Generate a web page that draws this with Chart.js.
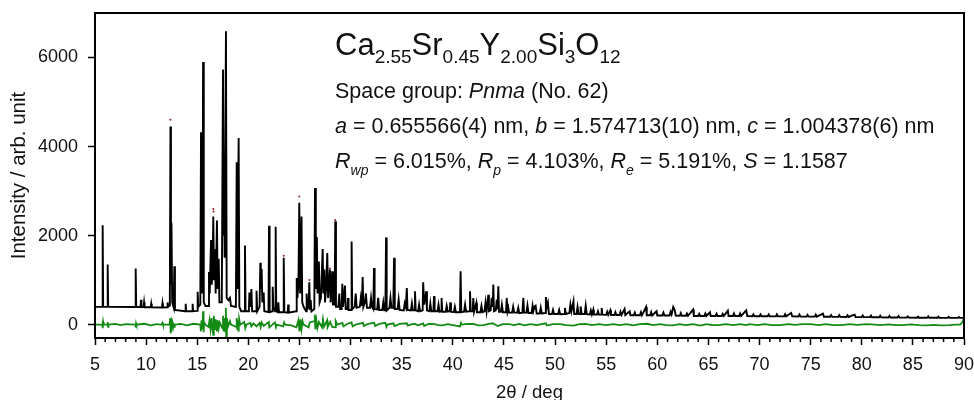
<!DOCTYPE html>
<html>
<head>
<meta charset="utf-8">
<script src="https://cdn.jsdelivr.net/npm/chart.js@4.4.0/dist/chart.umd.min.js"></script>
<style>
  body { margin: 0; background: #fff; }
  #wrap { width: 974px; height: 400px; }
</style>
</head>
<body>
<div id="wrap"><canvas id="graficoXRD" width="974" height="400"></canvas></div>
<script>
// perfil calculado (2theta, intensidad)
const calcProfile = [
  [5.0,400],[5.70,400],[5.75,2230],[5.80,400],[6.19,400],[6.24,1350],[6.29,400],
  [8.93,395],[8.98,1260],[9.03,395],[9.45,395],[9.5,560],[9.55,395],[9.75,395],[9.8,500],[9.85,390],
  [10.45,390],[10.5,470],[10.55,390],[11.55,385],[11.6,480],[11.65,385],[12.05,390],[12.1,500],[12.15,400],
  [12.32,430],[12.38,4450],[12.43,900],[12.48,2290],[12.55,500],[12.7,380],[12.76,1310],[12.82,330],
  [13.82,300],[13.87,470],[13.92,300],[14.5,300],[14.55,470],[14.6,300],[14.99,310],[15.04,740],[15.1,400],
  [15.3,450],[15.37,4320],[15.45,700],[15.52,1200],[15.57,5900],[15.64,500],[15.8,420],
  [16.1,420],[16.15,1180],[16.22,700],[16.35,1900],[16.42,900],[16.5,1200],[16.57,2430],[16.64,1000],
  [16.74,1700],[16.8,700],[16.93,2340],[16.99,800],[17.1,1480],[17.17,500],
  [17.4,500],[17.52,5730],[17.58,2000],[17.62,3150],[17.68,1500],[17.81,6590],[17.88,600],[18.05,550],[18.2,600],[18.3,420],
  [18.78,400],[18.86,3650],[18.93,800],[19.05,4190],[19.12,400],[19.3,300],[19.6,300],[19.67,1780],[19.73,300],
  [20.05,300],[20.1,720],[20.18,400],[20.3,800],[20.37,300],[20.75,300],[20.8,760],[20.87,300],
  [21.1,400],[21.17,1390],[21.22,800],[21.3,1250],[21.37,500],[21.5,720],[21.56,300],
  [21.97,280],[22.02,2220],[22.08,280],[22.33,300],[22.38,850],[22.45,400],[22.62,300],[22.67,2200],[22.73,300],
  [22.88,280],[22.93,500],[23.0,280],[23.4,280],[23.46,1500],[23.52,280],[23.85,270],[23.9,450],[23.95,270],
  [24.68,300],[24.73,1050],[24.8,600],[24.9,900],[24.98,2740],[25.07,700],[25.2,2430],[25.27,500],[25.4,400],
  [25.65,300],[25.7,700],[25.78,350],[25.9,400],[25.96,950],[26.03,350],[26.1,550],[26.17,300],
  [26.45,350],[26.52,3070],[26.6,800],[26.7,1970],[26.77,700],[26.9,1420],[26.97,500],[27.1,600],[27.27,1700],
  [27.33,700],[27.43,1240],[27.5,500],[27.6,800],[27.72,1610],[27.8,600],[27.98,1240],[28.05,500],[28.2,1200],[28.27,450],
  [28.44,450],[28.5,2320],[28.57,400],[28.8,400],[28.9,700],[28.97,350],[29.13,350],[29.19,920],[29.26,400],
  [29.45,880],[29.52,350],[29.7,350],[29.75,600],[29.8,330],
  [30.05,330],[30.1,1870],[30.16,350],[30.4,400],[30.5,700],[30.6,380],[30.9,400],[31.0,600],[31.1,420],
  [31.18,1070],[31.25,400],[31.4,500],[31.5,700],[31.6,380],
  [31.9,380],[32.0,600],[32.1,400],[32.22,350],[32.29,1270],[32.35,350],[32.6,340],[32.7,600],[32.8,330],
  [33.1,330],[33.2,500],[33.3,320],[33.4,320],[33.47,1960],[33.53,320],[33.8,380],[33.9,600],[34.0,380],
  [34.18,380],[34.25,1500],[34.32,350],[34.6,350],[34.7,560],[34.8,330],
  [35.2,320],[35.3,480],[35.4,400],[35.5,820],[35.57,330],[35.9,320],[36.0,480],[36.1,320],[36.25,320],
  [36.3,750],[36.37,320],[36.6,300],[36.7,450],[36.8,300],
  [37.05,320],[37.1,950],[37.2,450],[37.4,750],[37.47,320],[37.7,300],[37.8,480],[37.9,300],[38.1,300],
  [38.16,640],[38.22,300],[38.5,300],[38.6,450],[38.7,290],[38.85,300],[38.9,600],[38.97,290],
  [39.3,290],[39.4,420],[39.5,290],[39.7,300],[39.75,500],[39.82,290],[40.1,280],[40.2,400],[40.3,280],
  [40.7,280],[40.76,1200],[40.83,280],[41.1,290],[41.2,450],[41.3,290],[41.6,300],[41.68,750],[41.75,300],
  [41.95,300],[42.0,600],[42.08,290],[42.3,490],[42.36,280],
  [42.7,280],[42.8,420],[42.9,280],[43.1,300],[43.2,500],[43.3,300],[43.47,670],[43.53,300],[43.7,320],
  [43.8,600],[43.9,400],[43.96,900],[44.03,300],[44.2,320],[44.3,560],[44.38,350],[44.45,860],[44.52,290],
  [44.7,290],[44.8,450],[44.9,280],
  [45.2,280],[45.27,600],[45.35,300],[45.43,380],[45.5,270],[45.8,270],[45.9,400],[46.0,270],[46.3,270],
  [46.4,380],[46.5,260],[46.8,270],[46.9,600],[46.97,270],[47.2,270],[47.3,430],[47.4,260],[47.7,260],
  [47.8,420],[47.87,300],[48.0,410],[48.1,427],[48.2,250],
  [48.5,250],[48.6,380],[48.7,250],[49.05,260],[49.1,620],[49.2,400],[49.3,490],[49.4,240],
  [49.7,240],[49.8,330],[49.9,240],[50.3,240],[50.4,330],[50.5,235],[50.9,240],[50.97,375],[51.05,240],
  [51.4,260],[51.5,450],[51.6,300],[51.8,525],[51.87,240],
  [52.1,240],[52.2,400],[52.3,240],[52.45,240],[52.5,410],[52.6,240],[52.9,240],[53.0,427],[53.1,235],
  [53.4,230],[53.5,320],[53.6,230],[53.74,337],[53.8,225],
  [54.1,225],[54.2,300],[54.3,225],[54.5,225],[54.56,375],[54.63,225],[55.0,220],[55.1,290],[55.2,220],
  [55.4,322],[55.47,215],[55.8,215],[55.9,280],[56.0,215],[56.3,215],[56.4,290],[56.5,215],[56.8,352],
  [56.87,215],[57.3,300],[57.37,210],[57.7,210],[57.8,270],[57.9,210],[58.3,210],[58.4,280],[58.5,210],
  [58.9,397],[58.97,210],[59.3,210],[59.4,280],[59.5,205],[59.93,300],[60.0,205],[60.5,205],[60.6,270],
  [60.7,205],[61.2,205],[61.3,290],[61.4,230],[61.56,397],[61.7,330],[61.8,205],
  [62.2,200],[62.3,260],[62.4,200],[62.8,200],[62.9,250],[63.0,200],[63.5,337],[63.57,195],[64.0,195],
  [64.1,240],[64.2,195],[64.6,195],[64.7,250],[64.8,195],[65.15,277],[65.22,195],
  [65.7,195],[65.8,245],[65.9,195],[66.3,195],[66.4,240],[66.5,195],[66.9,315],[66.97,195],[67.4,195],
  [67.5,250],[67.6,195],[68.0,195],[68.1,250],[68.2,195],[68.7,320],[68.8,195],
  [69.3,190],[69.4,230],[69.5,190],[70.0,190],[70.1,230],[70.2,188],[70.8,188],[70.9,230],[71.0,188],
  [71.6,185],[71.7,230],[71.8,185],[72.4,185],[72.5,235],[72.6,185],[73.1,262],[73.2,185],
  [73.8,182],[73.9,225],[74.0,182],[74.6,180],[74.7,220],[74.8,180],[75.4,180],[75.5,225],[75.6,178],
  [76.2,247],[76.3,178],[76.9,176],[77.0,215],[77.1,176],[77.7,175],[77.8,215],[77.9,175],
  [78.5,172],[78.6,210],[78.7,172],[79.3,225],[79.4,170],[80.0,170],[80.1,205],[80.2,168],[80.8,168],
  [80.9,205],[81.0,166],[81.7,165],[81.8,200],[81.9,164],
  [82.6,162],[82.7,195],[82.8,162],[83.5,160],[83.6,190],[83.7,160],[84.4,158],[84.5,185],[84.6,158],
  [85.4,156],[85.5,180],[85.6,156],[86.4,155],[86.5,185],[86.6,155],
  [87.4,154],[87.5,178],[87.6,154],[88.4,153],[88.5,175],[88.6,153],[89.4,152],[89.5,170],[89.6,152],[90,152]
];

// puntos observados visibles sobre algunos picos
const obsTops = [
  [12.38,4600],[16.57,2600],[16.6,2540],[23.46,1550],[24.98,2880],[25.96,1000],[28.5,2350],[27.98,1260]
];

// curva diferencia (obs - calc)
const diffProfile = [
  [5.0,0],[5.7,0],[5.74,90],[5.77,-80],[5.8,60],[5.85,0],[6.2,0],[6.24,60],[6.28,-50],[6.32,0],
  [7.0,15],[7.5,-10],[8.0,10],[8.95,0],[8.98,-60],[9.02,30],[9.06,0],[9.8,20],[10.5,-15],[11.0,10],[11.5,0],[11.6,40],[11.65,0],
  [12.3,0],[12.36,150],[12.4,-200],[12.45,120],[12.5,-150],[12.56,60],[12.62,0],[12.76,-50],[12.8,0],
  [13.4,15],[14.0,-15],[14.6,20],[15.3,0],[15.36,-150],[15.42,100],[15.52,-100],[15.57,300],[15.62,-170],[15.68,50],[15.8,0],
  [16.1,-50],[16.2,100],[16.3,-100],[16.4,150],[16.5,-120],[16.57,-230],[16.62,200],[16.75,-100],[16.8,120],
  [16.93,-150],[17.0,100],[17.1,-80],[17.2,50],[17.3,0],[17.45,-80],[17.52,200],[17.57,-150],[17.65,150],
  [17.75,-150],[17.8,380],[17.84,-340],[17.9,150],[18.0,-50],[18.2,80],[18.3,0],
  [18.8,-50],[18.86,150],[18.92,-120],[19.0,100],[19.05,-160],[19.1,130],[19.2,0],[19.6,60],[19.7,-80],[19.8,0],
  [20.2,40],[20.3,-40],[20.5,30],[20.8,-40],[21.1,40],[21.2,-60],[21.3,50],[21.5,-30],[22.0,60],[22.05,-60],
  [22.6,50],[22.7,-60],[22.8,0],[23.4,-40],[23.5,50],[23.6,0],[24.2,-15],
  [24.7,-60],[24.9,100],[25.0,-150],[25.1,120],[25.2,-100],[25.3,80],[25.4,0],[25.9,-60],[26.0,50],
  [26.45,80],[26.5,225],[26.55,-100],[26.65,100],[26.75,-80],[26.9,60],[27.2,-60],[27.3,120],[27.4,-50],
  [27.7,100],[27.75,-60],[28.0,60],[28.2,-50],[28.5,-60],[28.55,80],[28.7,0],[29.2,40],[29.3,-40],
  [29.7,20],[30.1,50],[30.2,-40],[30.5,0],[30.8,20],[31.2,40],[31.3,-30],[31.7,15],[32.3,40],[32.4,-30],[32.8,15],[33.4,40],[33.5,-50],[33.6,0],
  [34.2,30],[34.3,-30],[34.8,15],[35.5,30],[35.6,-20],[36.0,10],[36.3,15],[36.6,-15],[37.1,30],[37.2,-30],[37.6,15],[38.2,10],[38.6,-10],[39.0,-15],[39.5,10],[40.0,-10],
  [40.7,-40],[40.8,40],[40.9,0],[41.4,15],[42.0,15],[42.5,-15],[43.0,-10],[43.5,15],[43.9,30],[44.4,-30],[44.9,10],[45.5,10],[46.0,-10],[46.5,15],[47.0,-15],[47.6,10],[48.2,-10],
  [49.1,30],[49.2,-20],[49.8,10],[50.5,10],[51.1,-10],[51.8,-20],[52.4,10],[53.0,15],[53.6,-10],[54.3,10],[55.0,-10],[55.7,10],[56.3,-10],[57.0,10],[57.6,-15],[58.3,10],
  [59.0,20],[59.6,-10],[60.3,10],[60.9,-10],[61.5,-15],[62.2,10],[62.8,-10],[63.5,10],[64.2,-20],[64.8,10],[65.4,-10],[66.0,-10],[66.7,10],[67.4,-10],[68.1,10],[68.7,-10],
  [69.0,10],[69.8,-10],[70.5,10],[71.2,-10],[72.0,-10],[72.8,10],[73.5,-5],[74.2,10],[75.0,10],[75.8,-10],[76.5,10],[77.2,-10],[78.0,-10],[78.8,10],[79.6,-5],[80.4,10],
  [81.0,5],[81.8,-10],[82.6,5],[83.3,-10],[84.0,-10],[84.8,5],[85.6,-10],[86.4,-15],[87.0,-5],[87.8,-15],[88.6,-10],[89.2,0],
  [89.6,0],[89.8,40],[89.95,110],[90,60]
];

const yTicks = [0, 2000, 4000, 6000];

const titleFormula = [
  { t: 'Ca', size: 31 }, { t: '2.55', size: 19, dy: 8 },
  { t: 'Sr', size: 31 }, { t: '0.45', size: 19, dy: 8 },
  { t: 'Y', size: 31 }, { t: '2.00', size: 19, dy: 8 },
  { t: 'Si', size: 31 }, { t: '3', size: 19, dy: 8 },
  { t: 'O', size: 31 }, { t: '12', size: 19, dy: 8 }
];
const lineSpaceGroup = [
  { t: 'Space group: ' }, { t: 'Pnma', italic: true }, { t: ' (No. 62)' }
];
const lineCell = [
  { t: 'a', italic: true }, { t: ' = 0.655566(4) nm, ' },
  { t: 'b', italic: true }, { t: ' = 1.574713(10) nm, ' },
  { t: 'c', italic: true }, { t: ' = 1.004378(6) nm' }
];
const lineFactors = [
  { t: 'R', italic: true }, { t: 'wp', italic: true, size: 14, dy: 7 }, { t: ' = 6.015%, ' },
  { t: 'R', italic: true }, { t: 'p', italic: true, size: 14, dy: 7 }, { t: ' = 4.103%, ' },
  { t: 'R', italic: true }, { t: 'e', italic: true, size: 14, dy: 7 }, { t: ' = 5.191%, ' },
  { t: 'S', italic: true }, { t: ' = 1.1587' }
];

const FAMILY = '"Liberation Sans", Arial, Helvetica, sans-serif';
Chart.defaults.font.family = FAMILY;
Chart.defaults.color = '#111';

const toXY = (arr) => arr.map((p) => ({ x: p[0], y: p[1] }));

function drawRich(ctx, x, y, parts, baseSize) {
  let cx = x;
  parts.forEach((p) => {
    const size = p.size || baseSize;
    ctx.font = `${p.italic ? 'italic ' : ''}${size}px ${FAMILY}`;
    ctx.fillText(p.t, cx, y + (p.dy || 0));
    cx += ctx.measureText(p.t).width;
  });
}

const marcoPlugin = {
  id: 'marco',
  afterDraw(chart) {
    const { ctx, chartArea: a, scales: { x } } = chart;
    ctx.save();
    ctx.strokeStyle = '#000';
    ctx.lineWidth = 2;
    ctx.strokeRect(a.left, a.top, a.right - a.left, a.bottom - a.top);
    // ticks menores cada 1 grado
    ctx.lineWidth = 1.5;
    for (let v = x.min; v <= x.max; v++) {
      if (v % 5 === 0) continue;
      const px = x.getPixelForValue(v);
      ctx.beginPath();
      ctx.moveTo(px, a.bottom);
      ctx.lineTo(px, a.bottom + 4);
      ctx.stroke();
    }
    ctx.fillStyle = '#111';
    ctx.textBaseline = 'alphabetic';
    ctx.textAlign = 'left';
    drawRich(ctx, 335, 55, titleFormula, 31);
    drawRich(ctx, 335, 98, lineSpaceGroup, 21.5);
    drawRich(ctx, 335, 133, lineCell, 21.5);
    drawRich(ctx, 335, 168, lineFactors, 21.5);
    ctx.restore();
  }
};

new Chart(document.getElementById('graficoXRD'), {
  type: 'line',
  data: {
    datasets: [
      {
        label: 'Diferencia',
        data: toXY(diffProfile),
        borderColor: '#138a13',
        borderWidth: 1.8,
        pointRadius: 0,
        tension: 0,
        order: 3
      },
      {
        label: 'Calculado',
        data: toXY(calcProfile),
        borderColor: '#000',
        borderWidth: 1.9,
        pointRadius: 0,
        tension: 0,
        order: 2
      },
      {
        label: 'Observado',
        data: toXY(obsTops),
        showLine: false,
        pointRadius: 1,
        pointBackgroundColor: '#8a2020',
        pointBorderWidth: 0,
        order: 1
      }
    ]
  },
  options: {
    responsive: false,
    animation: false,
    devicePixelRatio: 1,
    layout: { padding: { top: 13, right: 10, left: 0, bottom: 0 } },
    plugins: { legend: { display: false }, tooltip: { enabled: false } },
    scales: {
      x: {
        type: 'linear',
        min: 5,
        max: 90,
        afterFit: (scale) => {
          scale.height = 62;
          scale.paddingLeft = 0;
          scale.paddingRight = 0;
        },
        ticks: { stepSize: 5, font: { size: 18 }, padding: 9, color: '#111', maxRotation: 0 },
        grid: { drawOnChartArea: false, tickLength: 7, tickColor: '#000', tickWidth: 1.5 },
        border: { color: '#000', width: 2 },
        title: {
          display: true,
          text: '2θ / deg',
          font: { size: 18.5, lineHeight: 1 },
          color: '#111',
          padding: { top: 0, bottom: -2 }
        }
      },
      y: {
        min: -300,
        max: 7000,
        afterFit: (scale) => {
          scale.width = 95;
          scale.paddingTop = 0;
          scale.paddingBottom = 0;
        },
        afterBuildTicks: (scale) => { scale.ticks = yTicks.map((v) => ({ value: v })); },
        ticks: { font: { size: 18 }, padding: 10, color: '#111', callback: (v) => String(v) },
        grid: { drawOnChartArea: false, tickLength: 7, tickColor: '#000', tickWidth: 1.5 },
        border: { color: '#000', width: 2 },
        title: {
          display: true,
          text: 'Intensity / arb. unit',
          font: { size: 20.5, lineHeight: 1.2 },
          color: '#111',
          padding: { top: 7, bottom: 0 }
        }
      }
    }
  },
  plugins: [marcoPlugin]
});
</script>
</body>
</html>
